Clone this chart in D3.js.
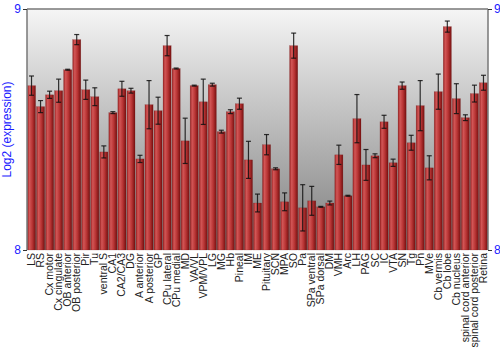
<!DOCTYPE html>
<html>
<head>
<meta charset="utf-8">
<script src="https://cdn.jsdelivr.net/npm/d3@7"></script>
<style>
  body { margin: 0; background: #fff; }
  text { font-family: "Liberation Sans", Arial, sans-serif; }
</style>
</head>
<body>
<svg id="chart" width="500" height="350"></svg>
<script>
const regions = ["LS", "RS", "Cx motor", "Cx cingulate", "OB anterior", "OB posterior", "Pir", "Tu",
    "ventral S", "CA1", "CA2/CA3", "DG", "A anterior", "A posterior", "GP", "CPu lateral", "CPu medial",
    "MD", "VA/VL", "VPM/VPL", "LG", "MG", "Hb", "Pineal", "IM", "ME", "Pituitary", "SCN", "MPA", "SO",
    "Pa", "SPa ventral", "SPa dorsal", "DM", "VMH", "Arc", "LH", "PAG", "SC", "IC", "VTA", "SN", "Tg",
    "Pn", "MVe", "Cb vermis", "Cb lobe", "Cb nucleus", "spinal cord anterior", "spinal cord posterior", "Retina"];
const expression = [8.682, 8.595, 8.644, 8.661, 8.748, 8.873, 8.665, 8.636,
    8.407, 8.570, 8.669, 8.661, 8.378, 8.603, 8.578, 8.848, 8.753,
    8.453, 8.682, 8.615, 8.686, 8.491, 8.574, 8.607, 8.374, 8.195, 8.437, 8.337, 8.200, 8.848,
    8.175, 8.204, 8.179, 8.195, 8.395, 8.225, 8.545, 8.353, 8.391, 8.532, 8.362, 8.682, 8.445,
    8.599, 8.341, 8.657, 8.927, 8.628, 8.549, 8.649, 8.694];
const errors = [0.040, 0.025, 0.015, 0.048, 0.002, 0.021, 0.040, 0.037,
    0.025, 0.004, 0.031, 0.010, 0.015, 0.100, 0.056, 0.042, 0.002,
    0.094, 0.002, 0.094, 0.006, 0.006, 0.008, 0.023, 0.077, 0.037, 0.042, 0.004, 0.037, 0.052,
    0.096, 0.060, 0.002, 0.008, 0.040, 0.002, 0.100, 0.064, 0.008, 0.027, 0.015, 0.015, 0.031,
    0.104, 0.050, 0.073, 0.023, 0.062, 0.012, 0.035, 0.031];
const yTicks = [8, 9];

const data = regions.map((r, i) => ({name: r, value: expression[i], err: errors[i]}));

const svg = d3.select("#chart");
const margin = {top: 9, right: 12, bottom: 100, left: 27};
const width = 500 - margin.left - margin.right;
const height = 350 - margin.top - margin.bottom;

const defs = svg.append("defs");
const bg = defs.append("linearGradient").attr("id", "bgGrad")
    .attr("x1", 0).attr("x2", 0).attr("y1", 0).attr("y2", 1);
bg.append("stop").attr("offset", "0%").attr("stop-color", "#f5f5f5");
bg.append("stop").attr("offset", "100%").attr("stop-color", "#7e7e7e");

const barGrad = defs.append("linearGradient").attr("id", "barGrad")
    .attr("x1", 0).attr("x2", 1).attr("y1", 0).attr("y2", 0);
barGrad.append("stop").attr("offset", "0%").attr("stop-color", "#9a2222");
barGrad.append("stop").attr("offset", "25%").attr("stop-color", "#d25656");
barGrad.append("stop").attr("offset", "60%").attr("stop-color", "#b83434");
barGrad.append("stop").attr("offset", "100%").attr("stop-color", "#761010");

const x = d3.scaleBand().domain(regions).range([0, width]).paddingInner(0.1).paddingOuter(0.05);
const y = d3.scaleLinear().domain([8, 9]).range([height, 0]);

const g = svg.append("g").attr("transform", `translate(${margin.left},${margin.top})`);

// background
g.append("rect")
    .attr("x", 0).attr("y", 0)
    .attr("width", width).attr("height", height)
    .style("fill", "url(#bgGrad)");

// bars
g.selectAll("rect.bar")
    .data(data)
    .join("rect")
    .attr("class", "bar")
    .attr("x", d => x(d.name))
    .attr("y", d => y(d.value))
    .attr("width", x.bandwidth())
    .attr("height", d => height - y(d.value))
    .style("fill", "url(#barGrad)")
    .style("stroke", "#6a1010")
    .style("stroke-opacity", 0.35)
    .style("stroke-width", 0.5);

// error bars
const eb = g.selectAll("g.err")
    .data(data)
    .join("g")
    .attr("class", "err")
    .style("stroke", "#111")
    .style("stroke-opacity", 0.85);
eb.append("line")
    .attr("x1", d => x(d.name) + x.bandwidth() / 2)
    .attr("x2", d => x(d.name) + x.bandwidth() / 2)
    .attr("y1", d => y(d.value + d.err))
    .attr("y2", d => y(d.value - d.err))
    .style("stroke-width", 1.2);
eb.selectAll("line.cap")
    .data(d => [d.value + d.err, d.value - d.err].map(v => ({name: d.name, v: v})))
    .join("line")
    .attr("class", "cap")
    .attr("x1", d => x(d.name) + x.bandwidth() / 2 - 2.5)
    .attr("x2", d => x(d.name) + x.bandwidth() / 2 + 2.5)
    .attr("y1", d => y(d.v))
    .attr("y2", d => y(d.v))
    .style("stroke-width", 1.2);

// frame lines
g.append("line").attr("x1", 0).attr("x2", width).attr("y1", 0).attr("y2", 0)
    .style("stroke", "#777").style("stroke-width", 1.5);
g.append("line").attr("x1", 0).attr("x2", 0).attr("y1", 0).attr("y2", height)
    .style("stroke", "#777").style("stroke-width", 1.5);
g.append("line").attr("x1", width).attr("x2", width).attr("y1", 0).attr("y2", height)
    .style("stroke", "#777").style("stroke-width", 1.5);

// y axes
const leftAxis = g.append("g")
    .call(d3.axisLeft(y).tickValues(yTicks).tickFormat(d3.format("d")).tickSize(4).tickPadding(2));
const rightAxis = g.append("g")
    .attr("transform", `translate(${width},0)`)
    .call(d3.axisRight(y).tickValues(yTicks).tickFormat(d3.format("d")).tickSize(4).tickPadding(2));
[leftAxis, rightAxis].forEach(a => {
    a.select(".domain").remove();
    a.selectAll(".tick line").style("stroke", "#333");
    a.selectAll(".tick text").style("fill", "#1a1aff").style("font-size", "12px")
        .style("font-family", "'Liberation Sans', Arial, sans-serif");
});

// category labels
g.selectAll("text.cat")
    .data(regions)
    .join("text")
    .attr("class", "cat")
    .attr("transform", d => `translate(${x(d) + x.bandwidth() / 2 + 3.5},${height + 3}) rotate(-90)`)
    .attr("text-anchor", "end")
    .style("font-size", "10.5px")
    .style("fill", "#222")
    .text(d => d);

// y title
svg.append("text")
    .attr("transform", `translate(11,${margin.top + height / 2}) rotate(-90)`)
    .attr("text-anchor", "middle")
    .style("font-size", "12px")
    .style("fill", "#1a1aff")
    .text("Log2 (expression)");
</script>
</body>
</html>
